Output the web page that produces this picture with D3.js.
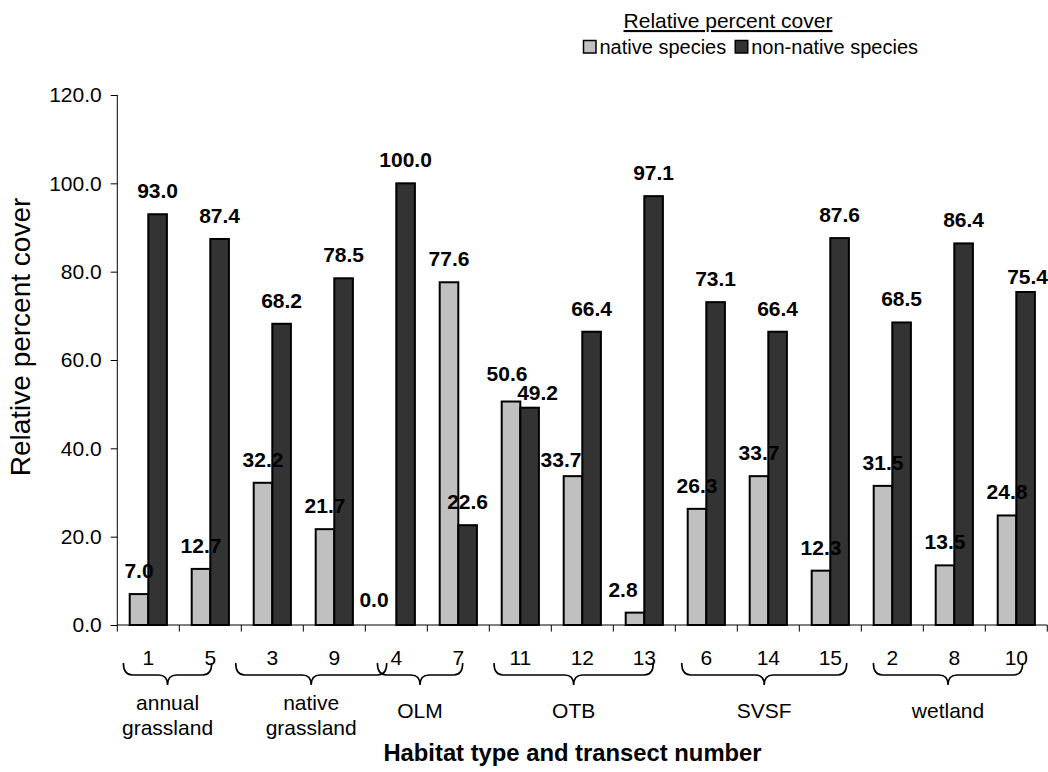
<!DOCTYPE html>
<html>
<head>
<meta charset="utf-8">
<script src="https://cdn.jsdelivr.net/npm/d3@7"></script>
<style>
  html, body { margin: 0; padding: 0; background: #fff; }
  svg { display: block; }
  text { font-family: "Liberation Sans", Arial, Helvetica, sans-serif; fill: #000; }
</style>
</head>
<body>
<svg id="chart" width="1048" height="772"></svg>
<script>
// ---------- data ----------
const categories = ["1", "5", "3", "9", "4", "7", "11", "12", "13", "6", "14", "15", "2", "8", "10"];
const nativeSpecies = [7.0, 12.7, 32.2, 21.7, 0.0, 77.6, 50.6, 33.7, 2.8, 26.3, 33.7, 12.3, 31.5, 13.5, 24.8];
const nonNativeSpecies = [93.0, 87.4, 68.2, 78.5, 100.0, 22.6, 49.2, 66.4, 97.1, 73.1, 66.4, 87.6, 68.5, 86.4, 75.4];
const seriesNames = ["native species", "non-native species"];
const yTicks = [0, 20, 40, 60, 80, 100, 120];
const habitatGroups = [
  { lines: ["annual", "grassland"], first: "1", last: "5" },
  { lines: ["native", "grassland"], first: "3", last: "9" },
  { lines: ["OLM"], first: "4", last: "7" },
  { lines: ["OTB"], first: "11", last: "13" },
  { lines: ["SVSF"], first: "6", last: "15" },
  { lines: ["wetland"], first: "2", last: "10" }
];
const legendTitle = "Relative percent cover";
const yTitle = "Relative percent cover";
const xTitle = "Habitat type and transect number";

// ---------- layout (label nudges / brace extents, px) ----------
const nativeLabelNudge = [[0,0],[0,0],[0,0],[0,0],[-13,-2],[0,0],[-4,-5],[-12,7],[-12,0],[0,0],[0,0],[0,0],[0,0],[0,0],[0,0]];
const nonNativeLabelNudge = [[0,0],[0,0],[0,0],[0,0],[0,0],[0,0],[8,8],[0,0],[0,0],[0,0],[0,0],[0,0],[0,0],[0,0],[2,8]];
const braceExtent = [[-15.6, 1.4], [-27.3, 52.4], [-9.6, 4.4], [-17, 9], [-15.3, 16.4], [-9.6, 6.4]];

const colors = ["#c0c0c0", "#333333"];
const margin = { left: 117.3, right: 0.7, top: 95, bottom: 147 };
const W = 1048, H = 772;
const plotW = W - margin.left - margin.right;
const plotH = H - margin.top - margin.bottom;
const FONT = '"Liberation Sans", Arial, sans-serif';

const svg = d3.select("#chart");
const g = svg.append("g").attr("transform", `translate(${margin.left},${margin.top})`);

const x = d3.scaleBand().domain(categories).range([0, plotW]).padding(0);
const step = x.step();
const xSub = d3.scaleBand().domain(seriesNames).range([step * 0.2, step * 0.8]).padding(0);
const y = d3.scaleLinear().domain([0, 120]).range([plotH, 0]);

// y axis
const yAxis = g.append("g")
  .call(d3.axisLeft(y).tickValues(yTicks).tickFormat(d3.format(".1f")).tickSize(6.6).tickPadding(9));
yAxis.selectAll("text").style("font-size", "21px").style("font-family", FONT);
yAxis.selectAll("line, path").attr("stroke", "#000");
yAxis.select(".domain").attr("d", `M0,${y(120)}V${plotH}`);

// x axis: labels at centers
const xAxis = g.append("g").attr("transform", `translate(0,${plotH})`)
  .call(d3.axisBottom(x).tickSize(0).tickPadding(25));
xAxis.selectAll("text").style("font-size", "21px").style("font-family", FONT);
xAxis.select(".domain").attr("stroke", "#000").attr("d", `M0,0H${plotW}`);
const boundaries = categories.map(c => x(c)).concat([plotW]);
xAxis.selectAll(".btick").data(boundaries).join("line")
  .attr("class", "btick")
  .attr("x1", d => d).attr("x2", d => d)
  .attr("y1", 0).attr("y2", 6.6)
  .attr("stroke", "#000");

// bars
const rows = categories.map((c, i) => ({ c, i, vals: [nativeSpecies[i], nonNativeSpecies[i]] }));
const groups = g.selectAll(".cat").data(rows).join("g")
  .attr("class", "cat")
  .attr("transform", d => `translate(${x(d.c)},0)`);

groups.selectAll("rect").data(d => d.vals.map((v, k) => ({ v, k, i: d.i }))).join("rect")
  .attr("x", d => xSub(seriesNames[d.k]))
  .attr("width", xSub.bandwidth())
  .attr("y", d => y(d.v))
  .attr("height", d => plotH - y(d.v))
  .attr("fill", d => colors[d.k])
  .attr("stroke", "#000")
  .attr("stroke-width", 2)
  .attr("display", d => d.v === 0 ? "none" : null);

groups.selectAll("text.val").data(d => d.vals.map((v, k) => ({ v, k, i: d.i }))).join("text")
  .attr("class", "val")
  .attr("x", d => xSub(seriesNames[d.k]) + xSub.bandwidth() / 2 + (d.k === 0 ? nativeLabelNudge : nonNativeLabelNudge)[d.i][0])
  .attr("y", d => y(d.v) - 16 + (d.k === 0 ? nativeLabelNudge : nonNativeLabelNudge)[d.i][1])
  .attr("text-anchor", "middle")
  .style("font-size", "21px")
  .style("font-weight", "bold")
  .text(d => d3.format(".1f")(d.v));

// braces + habitat labels
const by0 = plotH + 38, by1 = plotH + 50, by2 = plotH + 60, r = 9;
habitatGroups.forEach((hg, j) => {
  const x0 = x(hg.first) + xSub(seriesNames[0]) + xSub.bandwidth() / 2 + braceExtent[j][0];
  const x1 = x(hg.last) + xSub(seriesNames[1]) + braceExtent[j][1];
  const xm = (x0 + x1) / 2;
  const p = `M${x0},${by0} Q${x0},${by1} ${x0 + r},${by1} L${xm - r},${by1} Q${xm},${by1} ${xm},${by2} ` +
            `Q${xm},${by1} ${xm + r},${by1} L${x1 - r},${by1} Q${x1},${by1} ${x1},${by0}`;
  g.append("path").attr("d", p).attr("fill", "none").attr("stroke", "#000").attr("stroke-width", 1.6);
  const baseY = hg.lines.length === 1 ? plotH + 93 : plotH + 85;
  hg.lines.forEach((ln, k) => {
    g.append("text").attr("x", xm).attr("y", baseY + k * 25)
      .attr("text-anchor", "middle").style("font-size", "21px").text(ln);
  });
});

// axis titles
g.append("text")
  .attr("transform", `translate(${-87},${337 - margin.top}) rotate(-90)`)
  .attr("text-anchor", "middle")
  .style("font-size", "28px")
  .text(yTitle);

g.append("text")
  .attr("x", 572.5 - margin.left).attr("y", plotH + 136)
  .attr("text-anchor", "middle")
  .style("font-size", "23.8px").style("font-weight", "bold")
  .text(xTitle);

// legend
const lg = svg.append("g");
lg.append("text").attr("x", 728).attr("y", 28).attr("text-anchor", "middle")
  .style("font-size", "21px").style("text-decoration", "underline").text(legendTitle);
let lx = 583.5;
seriesNames.forEach((s, k) => {
  lg.append("rect").attr("x", lx).attr("y", 40.5).attr("width", 12.5).attr("height", 12.5)
    .attr("fill", colors[k]).attr("stroke", "#000").attr("stroke-width", 1.5);
  const t = lg.append("text").attr("x", lx + 16).attr("y", 54).style("font-size", "20px").text(s);
  lx = lx + 16 + t.node().getComputedTextLength() + 9;
});
</script>
</body>
</html>
